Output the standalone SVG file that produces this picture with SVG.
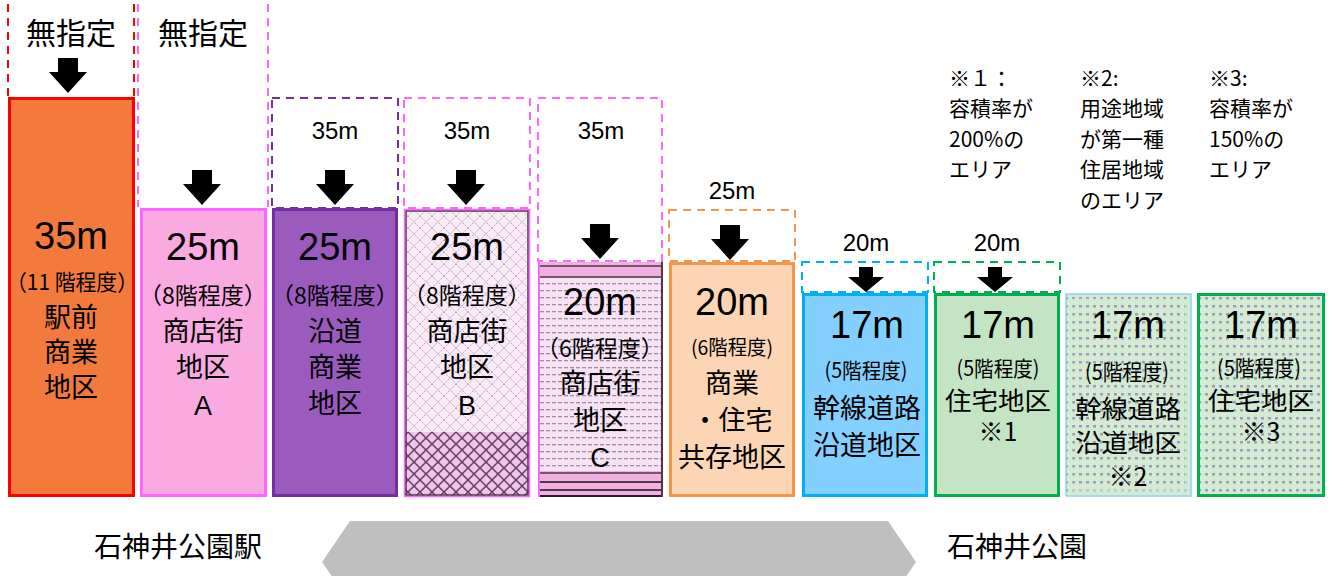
<svg xmlns="http://www.w3.org/2000/svg" width="1331" height="576" viewBox="0 0 1331 576">
<style>
text{font-family:"Liberation Sans","Noto Sans CJK JP",sans-serif;fill:#000;text-anchor:middle}
.jp{font-family:"Noto Sans CJK JP","Liberation Sans",sans-serif}
.big{font-size:38px}
.mid{font-size:24px}
.lab{font-size:27px}
.sm{font-size:25px}
.note{font-size:21px;text-anchor:start}
.dash{fill:none;stroke-width:2;stroke-dasharray:8 6}
.arr{fill:#000}
</style>
<defs>
<path id="arrow" d="M-10,0 H10 V14 H19 L0,35 L-19,14 H-10 Z"/>
<path id="arrowS" d="M-7,0 H7 V10 H18 L0,25 L-18,10 H-7 Z"/>
<pattern id="latLight" width="12" height="12" patternUnits="userSpaceOnUse">
<rect width="12" height="12" fill="#FBEAF8"/>
<path d="M0,0 L12,12 M12,0 L0,12" stroke="#B9A9B9" stroke-width="1" stroke-dasharray="1.5 1"/>
</pattern>
<pattern id="latDark" width="12" height="12" patternUnits="userSpaceOnUse">
<rect width="12" height="12" fill="#F3C3EF"/>
<path d="M0,0 L12,12 M12,0 L0,12" stroke="#5A465A" stroke-width="1.5"/>
</pattern>
<pattern id="hlines" width="6" height="7" patternUnits="userSpaceOnUse">
<rect width="6" height="7" fill="#F8E2F5"/>
<rect x="0" y="3" width="4" height="1.3" fill="#9E8E9E"/>
</pattern>
<pattern id="dots" width="7" height="8" patternUnits="userSpaceOnUse">
<rect width="7" height="8" fill="#D3EBD3"/>
<rect x="1" y="1" width="3" height="2.5" fill="#8C7FAE" opacity="0.75"/>
</pattern>
</defs>

<g id="connectors">
<polygon points="350,521 888,521 916,562 888,603 350,603 322,562" fill="#BFBFBF"/>
</g>

<g id="col1">
<line x1="8" y1="4" x2="8" y2="96" stroke="#FF0000" class="dash"/>
<line x1="134" y1="4" x2="134" y2="96" stroke="#FF0000" class="dash"/>
<text x="71" y="44" class="jp" style="font-size:30px">無指定</text>
<use href="#arrow" x="68" y="58" class="arr"/>
<rect x="9.5" y="98.5" width="124" height="397" fill="#F27A3D" stroke="#FF0000" stroke-width="3"/>
<text x="71" y="249" class="big">35m</text>
<text x="72" y="290" class="jp" style="font-size:22px" textLength="132" lengthAdjust="spacingAndGlyphs">（11 階程度）</text>
<text x="71" y="327" class="lab jp">駅前</text>
<text x="71" y="362" class="lab jp">商業</text>
<text x="71" y="397" class="lab jp">地区</text>
</g>

<g id="col2">
<line x1="138" y1="4" x2="138" y2="207" stroke="#FF66FF" class="dash"/>
<line x1="268" y1="4" x2="268" y2="207" stroke="#FF66FF" class="dash"/>
<text x="203" y="44" class="jp" style="font-size:30px">無指定</text>
<use href="#arrow" x="202" y="170" class="arr"/>
<rect x="141.5" y="209.5" width="124" height="286" fill="#F9AAE1" stroke="#FF66FF" stroke-width="3"/>
<text x="203" y="260" class="big">25m</text>
<text x="203" y="304" class="jp" style="font-size:23px">（8階程度）</text>
<text x="203" y="341" class="lab jp">商店街</text>
<text x="203" y="377" class="lab jp">地区</text>
<text x="203" y="415" class="lab">A</text>
</g>

<g id="col3">
<rect x="272" y="98" width="126" height="110" stroke="#7030A0" class="dash"/>
<text x="335" y="139" class="mid">35m</text>
<use href="#arrow" x="335" y="170" class="arr"/>
<rect x="273.5" y="209.5" width="123" height="286" fill="#9B5BBE" stroke="#7030A0" stroke-width="3"/>
<text x="335" y="260" class="big">25m</text>
<text x="335" y="304" class="jp" style="font-size:23px">（8階程度）</text>
<text x="335" y="341" class="lab jp">沿道</text>
<text x="335" y="377" class="lab jp">商業</text>
<text x="335" y="413" class="lab jp">地区</text>
</g>

<g id="col4">
<rect x="404" y="98" width="126" height="110" stroke="#FF66FF" class="dash"/>
<text x="467" y="139" class="mid">35m</text>
<use href="#arrow" x="466" y="170" class="arr"/>
<rect x="405" y="210" width="124" height="222" fill="url(#latLight)"/>
<rect x="405" y="432" width="124" height="64" fill="url(#latDark)"/>
<rect x="406" y="211" width="122" height="284" fill="none" stroke="#4A3A4A" stroke-width="1.5"/>
<rect x="404.5" y="209.5" width="125" height="287" fill="none" stroke="#FF66FF" stroke-width="1.5"/>
<text x="467" y="260" class="big">25m</text>
<text x="467" y="304" class="jp" style="font-size:23px">（8階程度）</text>
<text x="467" y="341" class="lab jp">商店街</text>
<text x="467" y="377" class="lab jp">地区</text>
<text x="467" y="415" class="lab">B</text>
</g>

<g id="col5">
<rect x="538" y="98" width="124" height="163" stroke="#FF66FF" class="dash"/>
<text x="601" y="139" class="mid">35m</text>
<use href="#arrow" x="600" y="224" class="arr"/>
<rect x="538" y="262" width="125" height="235" fill="url(#hlines)"/>
<rect x="538" y="262" width="125" height="16" fill="#F2B0E0"/>
<line x1="538" y1="266" x2="663" y2="266" stroke="#4A3A4A" stroke-width="1.5"/>
<line x1="538" y1="277" x2="663" y2="277" stroke="#4A3A4A" stroke-width="1.5"/>
<rect x="538" y="471" width="125" height="26" fill="#F2B0E0"/>
<line x1="538" y1="473" x2="663" y2="473" stroke="#4A3A4A" stroke-width="1.5"/>
<line x1="538" y1="482" x2="663" y2="482" stroke="#4A3A4A" stroke-width="2"/>
<line x1="538" y1="490" x2="663" y2="490" stroke="#4A3A4A" stroke-width="2"/>
<line x1="538" y1="496" x2="663" y2="496" stroke="#2A1A2A" stroke-width="2"/>
<line x1="539" y1="262" x2="539" y2="497" stroke="#FF66FF" stroke-width="2"/>
<line x1="662" y1="262" x2="662" y2="497" stroke="#4A3A4A" stroke-width="2"/>
<text x="600" y="315" class="big">20m</text>
<text x="600" y="357" class="jp" style="font-size:23px">（6階程度）</text>
<text x="600" y="393" class="lab jp">商店街</text>
<text x="600" y="430" class="lab jp">地区</text>
<text x="600" y="467" class="lab">C</text>
</g>

<g id="col6">
<rect x="669" y="210" width="126" height="51" stroke="#F79646" class="dash"/>
<text x="732" y="199" class="mid">25m</text>
<use href="#arrow" x="730" y="225" class="arr"/>
<rect x="670.5" y="263.5" width="123" height="232" fill="#FCD5B5" stroke="#F79646" stroke-width="3"/>
<text x="732" y="315" class="big">20m</text>
<text x="732" y="355" class="jp" style="font-size:20px" textLength="82" lengthAdjust="spacingAndGlyphs">(6階程度)</text>
<text x="732" y="393" class="lab jp">商業</text>
<text x="732" y="430" class="lab jp">・住宅</text>
<text x="732" y="467" class="lab jp">共存地区</text>
</g>

<g id="col7">
<rect x="802" y="262" width="126" height="30" stroke="#00B0F0" class="dash"/>
<text x="866" y="251" class="mid">20m</text>
<use href="#arrowS" x="866" y="267" class="arr"/>
<rect x="803.5" y="294.5" width="123" height="201" fill="#83CFFE" stroke="#00B0F0" stroke-width="3"/>
<text x="867" y="338" class="big">17m</text>
<text x="866" y="378" class="jp" style="font-size:21px" textLength="83" lengthAdjust="spacingAndGlyphs">(5階程度)</text>
<text x="867" y="418" class="lab jp">幹線道路</text>
<text x="867" y="455" class="lab jp">沿道地区</text>
</g>

<g id="col8">
<rect x="934" y="262" width="126" height="30" stroke="#00B050" class="dash"/>
<text x="997" y="251" class="mid">20m</text>
<use href="#arrowS" x="995" y="267" class="arr"/>
<rect x="935.5" y="294.5" width="123" height="201" fill="#C4E5C4" stroke="#00B050" stroke-width="3"/>
<text x="998" y="338" class="big">17m</text>
<text x="998" y="376" class="jp" style="font-size:21px" textLength="83" lengthAdjust="spacingAndGlyphs">(5階程度)</text>
<text x="998" y="410" class="sm jp" textLength="106" lengthAdjust="spacingAndGlyphs">住宅地区</text>
<text x="998" y="441" class="sm jp">※1</text>
</g>

<g id="col9">
<rect x="1066" y="294" width="125" height="202" fill="url(#dots)" stroke="#8ED4F4" stroke-width="1.5"/>
<rect x="1071" y="300" width="115" height="190" fill="none" stroke="#D3EBD3" stroke-width="3" opacity="0.6"/>
<text x="1128" y="338" class="big">17m</text>
<text x="1127" y="380" class="jp" style="font-size:22px" textLength="84" lengthAdjust="spacingAndGlyphs">(5階程度)</text>
<text x="1128" y="418" class="sm jp" textLength="106" lengthAdjust="spacingAndGlyphs">幹線道路</text>
<text x="1128" y="452" class="sm jp" textLength="106" lengthAdjust="spacingAndGlyphs">沿道地区</text>
<text x="1128" y="486" class="sm jp">※2</text>
</g>

<g id="col10">
<rect x="1198.5" y="294.5" width="125" height="201" fill="url(#dots)" stroke="#00B050" stroke-width="3"/>
<text x="1261" y="338" class="big">17m</text>
<text x="1259" y="376" class="jp" style="font-size:22px" textLength="84" lengthAdjust="spacingAndGlyphs">(5階程度)</text>
<text x="1261" y="410" class="sm jp" textLength="106" lengthAdjust="spacingAndGlyphs">住宅地区</text>
<text x="1261" y="441" class="sm jp">※3</text>
</g>

<g id="notes">
<text x="949" y="86" class="note jp">※１：</text>
<text x="949" y="116" class="note jp">容積率が</text>
<text x="949" y="147" class="note jp">200%の</text>
<text x="949" y="177" class="note jp">エリア</text>
<text x="1080" y="86" class="note jp">※2:</text>
<text x="1080" y="116" class="note jp">用途地域</text>
<text x="1080" y="147" class="note jp">が第一種</text>
<text x="1080" y="177" class="note jp">住居地域</text>
<text x="1080" y="208" class="note jp">のエリア</text>
<text x="1209" y="86" class="note jp">※3:</text>
<text x="1209" y="116" class="note jp">容積率が</text>
<text x="1209" y="147" class="note jp">150%の</text>
<text x="1209" y="177" class="note jp">エリア</text>
</g>

<g id="stations">
<text x="178" y="557" class="jp" style="font-size:28px">石神井公園駅</text>
<text x="1017" y="557" class="jp" style="font-size:28px">石神井公園</text>
</g>
</svg>
